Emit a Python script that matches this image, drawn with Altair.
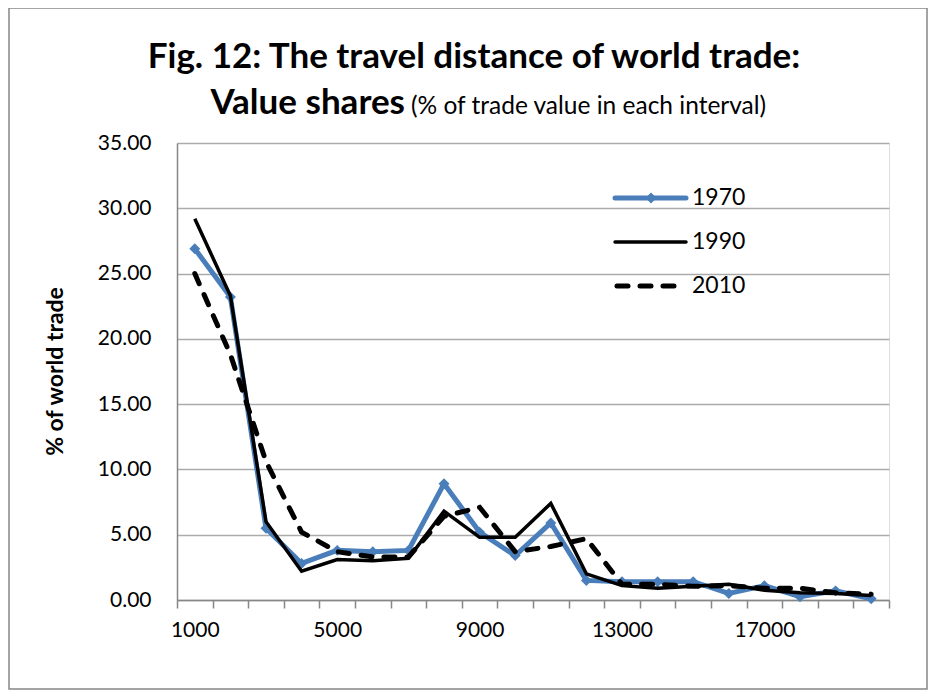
import altair as alt
import pandas as pd

# ---- data ----
distances = ["1000", "2000", "3000", "4000", "5000", "6000", "7000", "8000", "9000", "10000",
             "11000", "12000", "13000", "14000", "15000", "16000", "17000", "18000", "19000", "20000"]
share_1970 = [26.9, 23.2, 5.5, 2.8, 3.8, 3.7, 3.8, 8.9, 5.2, 3.4,
              5.9, 1.5, 1.4, 1.4, 1.4, 0.5, 1.1, 0.25, 0.7, 0.1]
share_1990 = [29.2, 23.3, 6.0, 2.2, 3.1, 3.0, 3.2, 6.8, 4.8, 4.8,
              7.4, 2.0, 1.1, 0.9, 1.05, 1.2, 0.75, 0.55, 0.5, 0.35]
share_2010 = [25.0, 18.8, 10.6, 5.2, 3.7, 3.3, 3.3, 6.4, 7.1, 3.7,
              4.1, 4.7, 1.2, 1.2, 1.05, 1.1, 0.9, 0.9, 0.55, 0.45]
shown_labels = ["1000", "5000", "9000", "13000", "17000"]
y_ticks = [0, 5, 10, 15, 20, 25, 30, 35]

FONT = "Lato"
BLUE = "#4A7EBB"
GRAY = "#868686"

def frame(vals):
    return pd.DataFrame({"distance": distances, "value": vals})

lbl_list = "[" + ",".join("'%s'" % s for s in shown_labels) + "]"

x_enc = alt.X(
    "distance:N",
    sort=distances,
    scale=alt.Scale(type="band", paddingInner=0, paddingOuter=0),
    axis=alt.Axis(
        title=None, grid=False, labelAngle=0, tickBand="extent",
        domainColor=GRAY, domainWidth=1.5, tickColor=GRAY, tickWidth=1.5, tickSize=8,
        labelFont=FONT, labelFontSize=21, labelColor="black", labelPadding=11,
        labelExpr="indexof(" + lbl_list + ", datum.label) >= 0 ? datum.label : ''",
    ),
)
y_enc = alt.Y(
    "value:Q",
    scale=alt.Scale(domain=[0, 35], nice=False, zero=True),
    axis=alt.Axis(
        values=y_ticks, format=".2f", grid=True, gridColor="#ABABAB", gridWidth=1.5,
        ticks=False, domainColor=GRAY, domainWidth=1.5,
        labelFont=FONT, labelFontSize=21, labelColor="black", labelPadding=26,
        title="% of world trade", titleFont=FONT, titleFontSize=23, titleFontWeight="bold",
        titleColor="black", titleX=-122, titleY=228, titleAngle=-90,
        titleAlign="center", titleBaseline="middle",
    ),
)

one = pd.DataFrame({"k": [0]})

border = alt.Chart(one).mark_rect(fillOpacity=0, stroke=GRAY, strokeWidth=1.5).encode(
    x=alt.value(-168), x2=alt.value(750), y=alt.value(-135), y2=alt.value(546)
)

l1970 = alt.Chart(frame(share_1970)).mark_line(color=BLUE, strokeWidth=5).encode(x=x_enc, y=y_enc)
p1970 = alt.Chart(frame(share_1970)).mark_point(
    shape="diamond", filled=True, size=120, color=BLUE, opacity=1
).encode(x=x_enc, y=y_enc)
l1990 = alt.Chart(frame(share_1990)).mark_line(color="black", strokeWidth=3.5).encode(x=x_enc, y=y_enc)
l2010 = alt.Chart(frame(share_2010)).mark_line(
    color="black", strokeWidth=5, strokeDash=[11, 12], strokeCap="round"
).encode(x=x_enc, y=y_enc)

# title (two lines, mixed weights)
t1 = alt.Chart(one).mark_text(
    text="Fig. 12: The travel distance of world trade:", font=FONT, fontSize=35,
    fontWeight="bold", align="center", baseline="alphabetic", color="black"
).encode(x=alt.value(297), y=alt.value(-75))
t2a = alt.Chart(one).mark_text(
    text="Value shares", font=FONT, fontSize=35, fontWeight="bold",
    align="right", baseline="alphabetic", color="black"
).encode(x=alt.value(228), y=alt.value(-29))
t2b = alt.Chart(one).mark_text(
    text="(% of trade value in each interval)", font=FONT, fontSize=24.5,
    align="left", baseline="alphabetic", color="black"
).encode(x=alt.value(234), y=alt.value(-29))

# legend
lg1 = alt.Chart(one).mark_rule(color=BLUE, strokeWidth=5, strokeCap="round").encode(
    x=alt.value(438), x2=alt.value(509), y=alt.value(55))
lg1p = alt.Chart(one).mark_point(shape="diamond", filled=True, size=120, color=BLUE, opacity=1).encode(
    x=alt.value(474), y=alt.value(55))
lg2 = alt.Chart(one).mark_rule(color="black", strokeWidth=3.5, strokeCap="round").encode(
    x=alt.value(438), x2=alt.value(509), y=alt.value(99))
lg3 = alt.Chart(one).mark_rule(color="black", strokeWidth=5, strokeDash=[11, 12], strokeCap="round").encode(
    x=alt.value(440), x2=alt.value(509), y=alt.value(143))
lt1 = alt.Chart(one).mark_text(text="1970", font=FONT, fontSize=23, align="left", baseline="middle", color="black").encode(
    x=alt.value(515), y=alt.value(55))
lt2 = alt.Chart(one).mark_text(text="1990", font=FONT, fontSize=23, align="left", baseline="middle", color="black").encode(
    x=alt.value(515), y=alt.value(99))
lt3 = alt.Chart(one).mark_text(text="2010", font=FONT, fontSize=23, align="left", baseline="middle", color="black").encode(
    x=alt.value(515), y=alt.value(143))

chart = alt.layer(
    border, l1970, p1970, l1990, l2010, t1, t2a, t2b, lg1, lg1p, lg2, lg3, lt1, lt2, lt3
).properties(
    width=712, height=457,
    autosize=alt.AutoSizeParams(type="none"),
    padding={"left": 169, "top": 135, "right": 39, "bottom": 92},
).configure_view(stroke=None).configure(background="white")

chart.save("out.html", embed_options={"renderer": "svg", "actions": False})
